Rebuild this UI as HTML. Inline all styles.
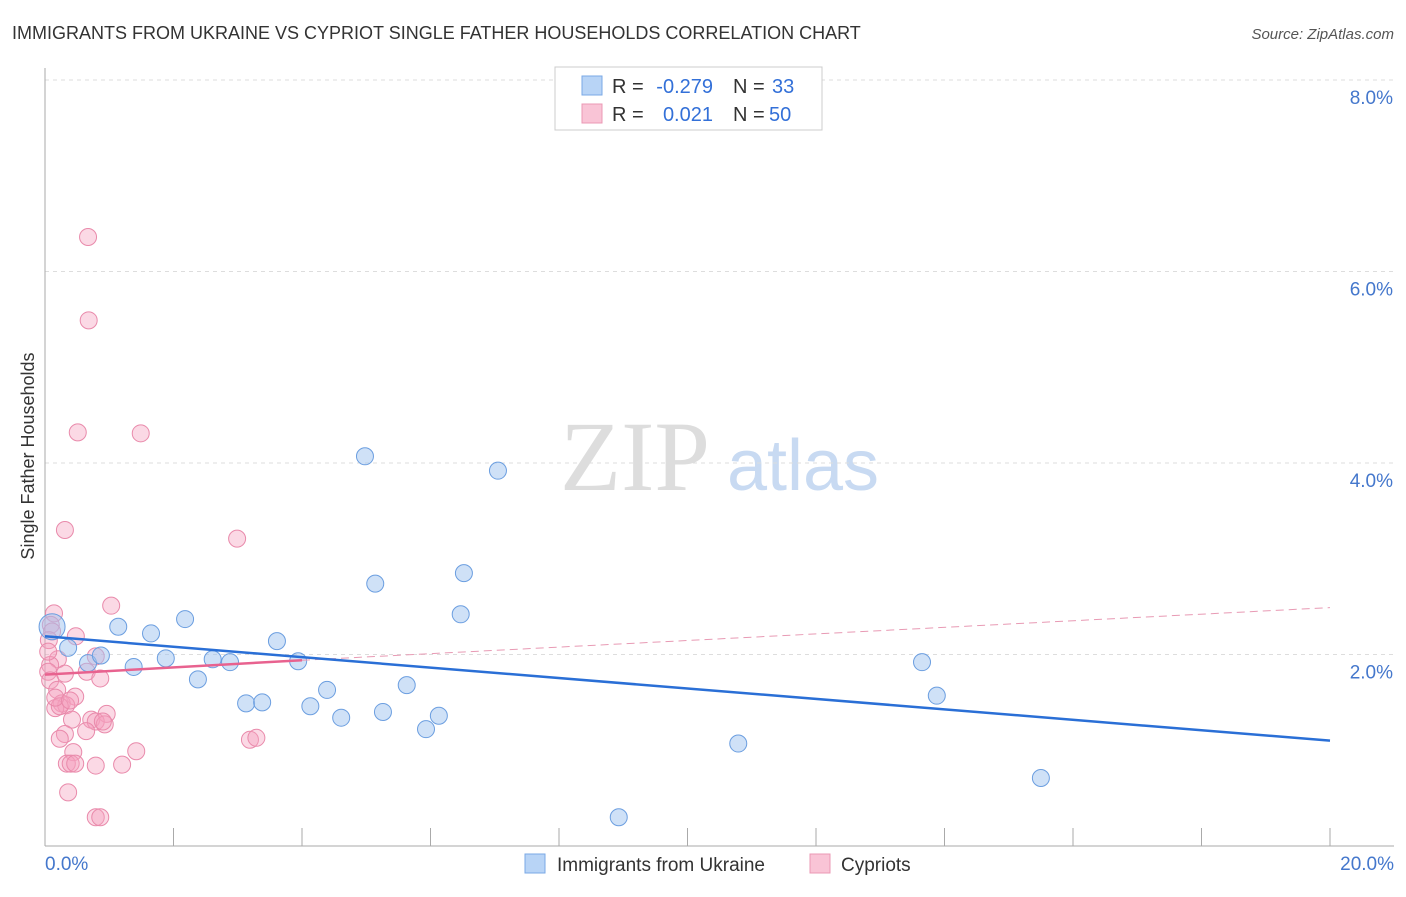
<!DOCTYPE html>
<html><head><meta charset="utf-8"><style>
body{margin:0;background:#fff;font-family:"Liberation Sans",sans-serif}
</style></head><body>
<svg width="1406" height="892" viewBox="0 0 1406 892" id="c" font-family="Liberation Sans, sans-serif">
<text x="12" y="39" font-size="18" fill="#333">IMMIGRANTS FROM UKRAINE VS CYPRIOT SINGLE FATHER HOUSEHOLDS CORRELATION CHART</text>
<text x="1394" y="39" font-size="15" fill="#555" text-anchor="end" font-style="italic">Source: ZipAtlas.com</text>
<text x="34" y="456" font-size="18" fill="#333" text-anchor="middle" transform="rotate(-90 34 456)">Single Father Households</text>
<g><text x="635" y="490" font-size="100" fill="#ddd" text-anchor="middle" style="font-family:'Liberation Serif',serif">ZIP</text><text x="803" y="490" font-size="72" fill="#c8daf2" text-anchor="middle">atlas</text></g>
<g id="grid"></g><g id="axes"></g><g id="pts"></g><g id="lines"></g>
<g>
<rect x="555" y="67" width="267" height="63" fill="#fff" stroke="#ccc"/>
<rect x="582" y="76" width="20" height="19" fill="#b8d4f6" stroke="#7aa8e6"/>
<rect x="582" y="104" width="20" height="19" fill="#f9c4d6" stroke="#eb98b4"/>
<text x="612" y="93" font-size="20" fill="#333">R =</text>
<text x="713" y="93" font-size="20" fill="#3370d8" text-anchor="end">-0.279</text>
<text x="733" y="93" font-size="20" fill="#333">N =</text>
<text x="772" y="93" font-size="20" fill="#3370d8">33</text>
<text x="612" y="121" font-size="20" fill="#333">R =</text>
<text x="713" y="121" font-size="20" fill="#3370d8" text-anchor="end">0.021</text>
<text x="733" y="121" font-size="20" fill="#333">N =</text>
<text x="769" y="121" font-size="20" fill="#3370d8">50</text>
</g>
<g>
<rect x="525" y="854" width="20" height="19" fill="#b8d4f6" stroke="#7aa8e6"/>
<text x="557" y="871" font-size="19" fill="#333">Immigrants from Ukraine</text>
<rect x="810" y="854" width="20" height="19" fill="#f9c4d6" stroke="#eb98b4"/>
<text x="841" y="871" font-size="19" fill="#333">Cypriots</text>
</g>
</svg>
<script>
const yTicks=[2,4,6,8];
const yTickLabels=["2.0%","4.0%","6.0%","8.0%"];
const xTicks=[0,2,4,6,8,10,12,14,16,18,20];
const ukrX=[0.11,0.36,0.67,0.87,1.14,1.38,1.65,1.88,2.18,2.38,2.61,2.88,3.13,3.38,3.61,3.94,4.13,4.39,4.61,4.98,5.14,5.26,5.63,5.93,6.13,6.47,6.52,7.05,8.93,10.79,13.65,13.88,15.50];
const ukrY=[2.29,2.07,1.91,1.99,2.29,1.87,2.22,1.96,2.37,1.74,1.95,1.92,1.49,1.50,2.14,1.93,1.46,1.63,1.34,4.07,2.74,1.40,1.68,1.22,1.36,2.42,2.85,3.92,0.30,1.07,1.92,1.57,0.71];
const cypX=[0.67,0.68,0.51,1.49,0.31,2.99,1.03,0.14,0.09,0.11,0.48,0.06,0.20,0.79,0.08,0.05,0.65,0.31,0.08,0.86,0.19,0.47,0.26,0.33,0.16,0.23,0.96,0.42,0.72,0.79,0.93,0.64,0.31,0.23,0.44,1.42,3.19,3.29,0.34,0.40,0.79,1.20,0.36,0.79,0.86,0.16,0.90,0.47,0.39,0.05];
const cypY=[6.36,5.49,4.32,4.31,3.30,3.21,2.51,2.43,2.31,2.24,2.19,2.15,1.95,1.98,1.89,1.82,1.82,1.80,1.73,1.75,1.63,1.56,1.49,1.47,1.44,1.46,1.38,1.32,1.32,1.30,1.27,1.20,1.17,1.12,0.98,0.99,1.11,1.13,0.86,0.86,0.84,0.85,0.56,0.30,0.30,1.55,1.30,0.86,1.52,2.03];
const ukrTrend=[[0,2.19],[20,1.10]];
const cypTrend=[[0,1.79],[4,1.94]];
const cypDash=[[4,1.94],[20,2.49]];
const X=v=>45+v*64.25, Y=v=>846-v*95.75;
const NS="http://www.w3.org/2000/svg";
function mk(t,a,p){const e=document.createElementNS(NS,t);for(const k in a)e.setAttribute(k,a[k]);p.appendChild(e);return e;}
const grid=document.getElementById('grid'),axes=document.getElementById('axes'),pts=document.getElementById('pts'),lines=document.getElementById('lines');
yTicks.forEach((v,i)=>{
 const l=mk('line',{x1:45,x2:1394,y1:Y(v),y2:Y(v),stroke:'#ddd','stroke-dasharray':'4,4'},grid);
 
 
 const t=mk('text',{x:1393,y:Y(v)+24,'font-size':19,fill:'#4477cc','text-anchor':'end'},axes);
 t.textContent=yTickLabels[i];
 
 
});
const ga=mk('line',{x1:45,x2:45,y1:68,y2:846,stroke:'#aaa'},axes);


const gx=mk('line',{x1:45,x2:1394,y1:846,y2:846,stroke:'#aaa'},axes);


xTicks.forEach(v=>{const l=mk('line',{x1:X(v),x2:X(v),y1:828,y2:846,stroke:'#aaa'},axes);
 
 });
[["0.0%",45,'start'],["20.0%",1394,'end']].forEach(a=>{const t=mk('text',{x:a[1],y:870,'font-size':19,fill:'#4477cc','text-anchor':a[2]},axes);t.textContent=a[0];
 
 });
cypX.forEach((v,i)=>{const c=mk('circle',{cx:X(v),cy:Y(cypY[i]),r:8.5,fill:'rgba(244,160,190,0.4)',stroke:'#e98aab','stroke-width':1},pts);
 
 });
ukrX.forEach((v,i)=>{const c=mk('circle',{cx:X(v),cy:Y(ukrY[i]),r:i==0?13:8.5,fill:'rgba(160,196,240,0.5)',stroke:'#6b9ee0','stroke-width':1},pts);
 
 });
function ln(d,attrs,name){const l=mk('line',Object.assign({x1:X(d[0][0]),y1:Y(d[0][1]),x2:X(d[1][0]),y2:Y(d[1][1])},attrs),lines);
 
 }
ln(cypDash,{stroke:'#e89ab4','stroke-width':1,'stroke-dasharray':'8,5'},'cypriots-trend-extension');
ln(ukrTrend,{stroke:'#2a6fd6','stroke-width':2.5},'ukraine-trend-line');
ln(cypTrend,{stroke:'#e8628f','stroke-width':2.5},'cypriots-trend-line');
</script>
</body></html>
